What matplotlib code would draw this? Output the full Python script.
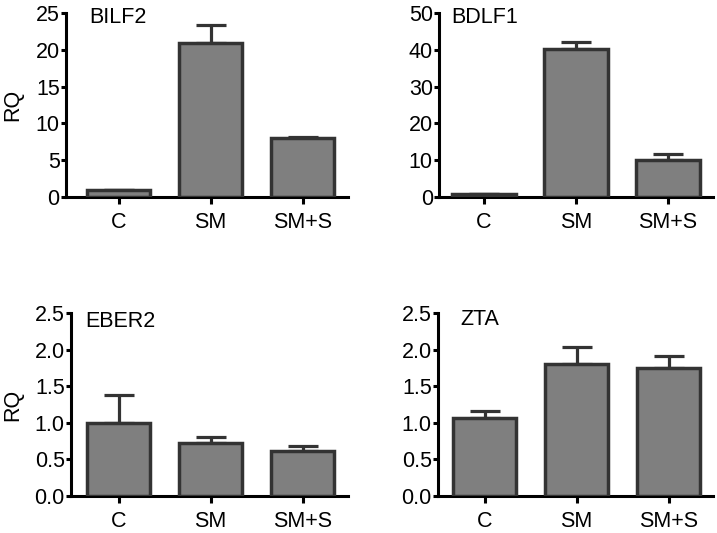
import numpy as np
import matplotlib
matplotlib.use('Agg')
import matplotlib.pyplot as plt

plt.rcParams['font.family'] = ['Liberation Sans', 'DejaVu Sans']

# データ
groups = ['C', 'SM', 'SM+S']
genes = ['BILF2', 'BDLF1', 'EBER2', 'ZTA']
bilf2 = [0.9, 20.9, 8.0]
bilf2_err = [0.05, 2.5, 0.2]
bdlf1 = [0.8, 40.2, 10.1]
bdlf1_err = [0.1, 1.8, 1.7]
eber2 = [1.0, 0.72, 0.62]
eber2_err = [0.38, 0.09, 0.06]
zta = [1.06, 1.81, 1.75]
zta_err = [0.10, 0.22, 0.16]
y_max = [25, 50, 2.5, 2.5]
y_ticks = [[0, 5, 10, 15, 20, 25], [0, 10, 20, 30, 40, 50],
           [0, 0.5, 1.0, 1.5, 2.0, 2.5], [0, 0.5, 1.0, 1.5, 2.0, 2.5]]
y_fmt = ['{:.0f}', '{:.0f}', '{:.1f}', '{:.1f}']

values = [bilf2, bdlf1, eber2, zta]
errors = [bilf2_err, bdlf1_err, eber2_err, zta_err]

# レイアウト (pixel): left, right, top, bottom, center of first bar
W, H = 717, 533
layout = [(66, 348, 13, 197, 118.5), (439, 713, 13, 197, 484),
          (71, 348, 313, 496, 118.5), (438, 713, 313, 496, 484.5)]
spacing = 92.0
title_pos = [(0.082, 0.978), (0.043, 0.978), (0.05, 0.953), (0.08, 0.966)]
fs = 15.5

fig = plt.figure(figsize=(W / 100, H / 100), dpi=100)
edge = '#333333'
for i in range(4):
    l, r, t, b, c0 = layout[i]
    ax = fig.add_axes([l / W, 1 - b / H, (r - l) / W, (b - t) / H])
    x = np.arange(len(groups))
    ax.bar(x, values[i], width=0.685, color='#7f7f7f', edgecolor=edge,
           linewidth=2.5, zorder=3)
    ax.errorbar(x, values[i], yerr=[np.zeros(3), errors[i]], fmt='none',
                ecolor=edge, elinewidth=2.3, capsize=10.5, capthick=2.3, zorder=2)
    ax.set_xlim((l - c0) / spacing, (r - c0) / spacing)
    ax.set_ylim(0, y_max[i])
    ax.set_yticks(y_ticks[i])
    ax.set_yticklabels([y_fmt[i].format(v) for v in y_ticks[i]])
    ax.set_xticks(x)
    ax.set_xticklabels(groups)
    for s in ['top', 'right']:
        ax.spines[s].set_visible(False)
    for s in ['left', 'bottom']:
        ax.spines[s].set_linewidth(2.2)
        ax.spines[s].set_color('black')
    ax.tick_params(axis='y', length=3.5, width=2.2, pad=1, labelsize=fs)
    ax.tick_params(axis='x', length=5, width=2.2, pad=6, labelsize=fs)
    ax.text(title_pos[i][0], title_pos[i][1], genes[i], transform=ax.transAxes,
            fontsize=fs, va='center', ha='left')
    if i % 2 == 0:
        ax.set_ylabel('RQ', fontsize=fs)
        ax.yaxis.set_label_coords((23 - l) / (r - l), 0.5)

fig.savefig('out.png', dpi=100)
